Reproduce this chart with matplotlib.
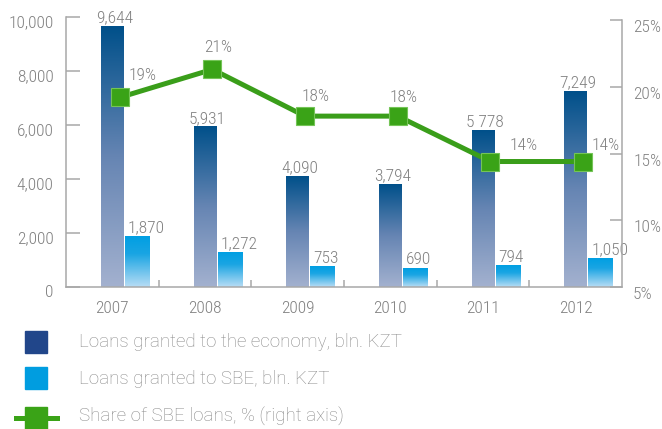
import matplotlib
matplotlib.use("Agg")
import matplotlib.pyplot as plt
import numpy as np
from matplotlib.colors import LinearSegmentedColormap
from matplotlib.patches import Rectangle
from matplotlib.lines import Line2D
import matplotlib.transforms as mtransforms

NARROW = ['Roboto Condensed', 'Archivo Narrow', 'PT Sans Narrow',
          'Liberation Sans Narrow', 'Liberation Sans', 'DejaVu Sans']
plt.rcParams['font.family'] = NARROW
plt.rcParams['font.weight'] = 'light'

# ---- data ----
years = ["2007", "2008", "2009", "2010", "2011", "2012"]
loans_economy = [9644, 5931, 4090, 3794, 5778, 7249]
loans_sbe = [1870, 1272, 753, 690, 794, 1050]
sbe_share = [19.2, 21.3, 17.8, 17.8, 14.4, 14.4]
economy_labels = ["9,644", "5,931", "4,090", "3,794", "5 778", "7,249"]
sbe_labels = ["1,870", "1,272", "753", "690", "794", "1,050"]
left_ticks = [0, 2000, 4000, 6000, 8000, 10000]
right_ticks = [5, 10, 15, 20, 25]
legend_labels = ["Loans granted to the economy, bln. KZT",
                 "Loans granted to SBE, bln. KZT",
                 "Share of SBE loans, % (right axis)"]

W, H, DPI = 662, 429, 100
fig = plt.figure(figsize=(W / DPI, H / DPI), dpi=DPI)

def fx(px):
    return px / W

def fy(py):
    return 1 - py / H

ax = fig.add_axes([fx(66), fy(287), fx(622) - fx(66), fy(17) - fy(287)])
ax2 = ax.twinx()

GRAY = "#a8a8a8"
TXT = "#808080"
GREEN = "#3a9e1a"
FS = 12.5

dark_cmap = LinearSegmentedColormap.from_list(
    "dark", [(0.0, "#a3b1cf"), (0.5, "#6685b3"), (1.0, "#00508a")])
light_cmap = LinearSegmentedColormap.from_list(
    "light", [(0.0, "#b8ddf5"), (0.65, "#1aa5e3"), (1.0, "#009fe3")])

x = np.arange(len(years))
bars_e = ax.bar(x, loans_economy, width=0.248, color="none", linewidth=0)
bars_s = ax.bar(x + 0.265, loans_sbe, width=0.26, color="none", linewidth=0)

grad = np.linspace(0, 1, 256).reshape(-1, 1)
for bars, cmap in ((bars_e, dark_cmap), (bars_s, light_cmap)):
    for p in bars:
        x0, w, h = p.get_x(), p.get_width(), p.get_height()
        ax.imshow(grad, extent=[x0, x0 + w, 0, h], origin="lower",
                  aspect="auto", cmap=cmap, interpolation="bicubic", zorder=2)

# value labels over the bars
for p, lab in zip(bars_e, economy_labels):
    ax.annotate(lab, (p.get_x() + p.get_width() / 2, p.get_height()),
                xytext=(2, 4), textcoords="offset pixels",
                ha="center", va="baseline", fontsize=FS, color=TXT, zorder=5)
for p, lab in zip(bars_s, sbe_labels):
    ax.annotate(lab, (p.get_x(), p.get_height()),
                xytext=(3, 4), textcoords="offset pixels",
                ha="left", va="baseline", fontsize=FS, color=TXT, zorder=5)

ax.set_xlim(-0.5, len(years) - 0.5)
ax.set_ylim(0, 10000)

# share line on right axis
xl = x + 0.08
ax2.plot(xl, sbe_share, color=GREEN, lw=3.6, marker="s", markersize=12.5,
         markerfacecolor="#3aa317", markeredgecolor="#74c457",
         markeredgewidth=0.8, zorder=4, solid_joinstyle="miter")
pct_offsets = [(23, 22), (6, 22), (10, 20), (6, 19), (33, 16), (23, 16)]
for xi, v, off in zip(xl, sbe_share, pct_offsets):
    ax2.annotate(f"{v:.0f}%", (xi, v), xytext=off, textcoords="offset pixels",
                 ha="center", va="center", fontsize=FS, color=TXT, zorder=6)
ax2.set_ylim(5, 5 + 20 * 270 / 267)

# axes styling
for a in (ax, ax2):
    for s in a.spines.values():
        s.set_visible(False)
ax.spines["left"].set_visible(True)
ax.spines["bottom"].set_visible(True)
ax2.spines["right"].set_visible(True)
for s in (ax.spines["left"], ax.spines["bottom"], ax2.spines["right"]):
    s.set_color(GRAY)
    s.set_linewidth(1.1)
ax.spines["left"].set_bounds(0, 10000)
ax2.spines["right"].set_bounds(5, 25)

ax.set_yticks(left_ticks)
ax.set_yticklabels([f"{t:,}" for t in left_ticks])
ax.tick_params(axis="y", direction="in", length=10, width=1.1, color=GRAY,
               labelsize=FS, labelcolor=TXT, pad=9)
ax.set_xticks(x)
ax.set_xticklabels(years)
ax.set_xticks(x[:-1] + 0.5, minor=True)
ax.tick_params(axis="x", which="major", length=0, labelsize=FS,
               labelcolor=TXT, pad=10)
ax.tick_params(axis="x", which="minor", direction="in", length=5, width=1.1,
               color=GRAY)

ax2.set_yticks(right_ticks)
ax2.set_yticklabels([f"{t}%" for t in right_ticks])
ax2.tick_params(axis="y", direction="in", length=8.6, width=1.1, color=GRAY,
                labelsize=FS, labelcolor=TXT, pad=8)

shift_l = mtransforms.ScaledTranslation(0, -4 / DPI, fig.dpi_scale_trans)
shift_r = mtransforms.ScaledTranslation(0, -6 / DPI, fig.dpi_scale_trans)
for lab in ax.get_yticklabels():
    lab.set_transform(lab.get_transform() + shift_l)
for lab in ax2.get_yticklabels():
    lab.set_transform(lab.get_transform() + shift_r)

# legend drawn below the plot
LTXT = "#8a8a8a"
fig.add_artist(Rectangle((fx(25), fy(353)), fx(47) - fx(25), fy(331) - fy(353),
                         transform=fig.transFigure, color="#21468a"))
fig.add_artist(Rectangle((fx(25), fy(389)), fx(47) - fx(25), fy(367) - fy(389),
                         transform=fig.transFigure, color="#009de0"))
fig.add_artist(Line2D([fx(16), fx(57)], [fy(418), fy(418)],
                      transform=fig.transFigure, color="#3aa317", lw=3.6))
fig.add_artist(Rectangle((fx(25), fy(429)), fx(47) - fx(25), fy(407) - fy(429),
                         transform=fig.transFigure, color="#3aa317"))
for yy, lab in zip((342, 379, 417), legend_labels):
    fig.text(fx(79), fy(yy), lab, ha="left", va="center", fontsize=13.5,
             color=LTXT, family=["Roboto", "Liberation Sans", "DejaVu Sans"],
             weight="light")

fig.savefig("out.png", dpi=DPI)
